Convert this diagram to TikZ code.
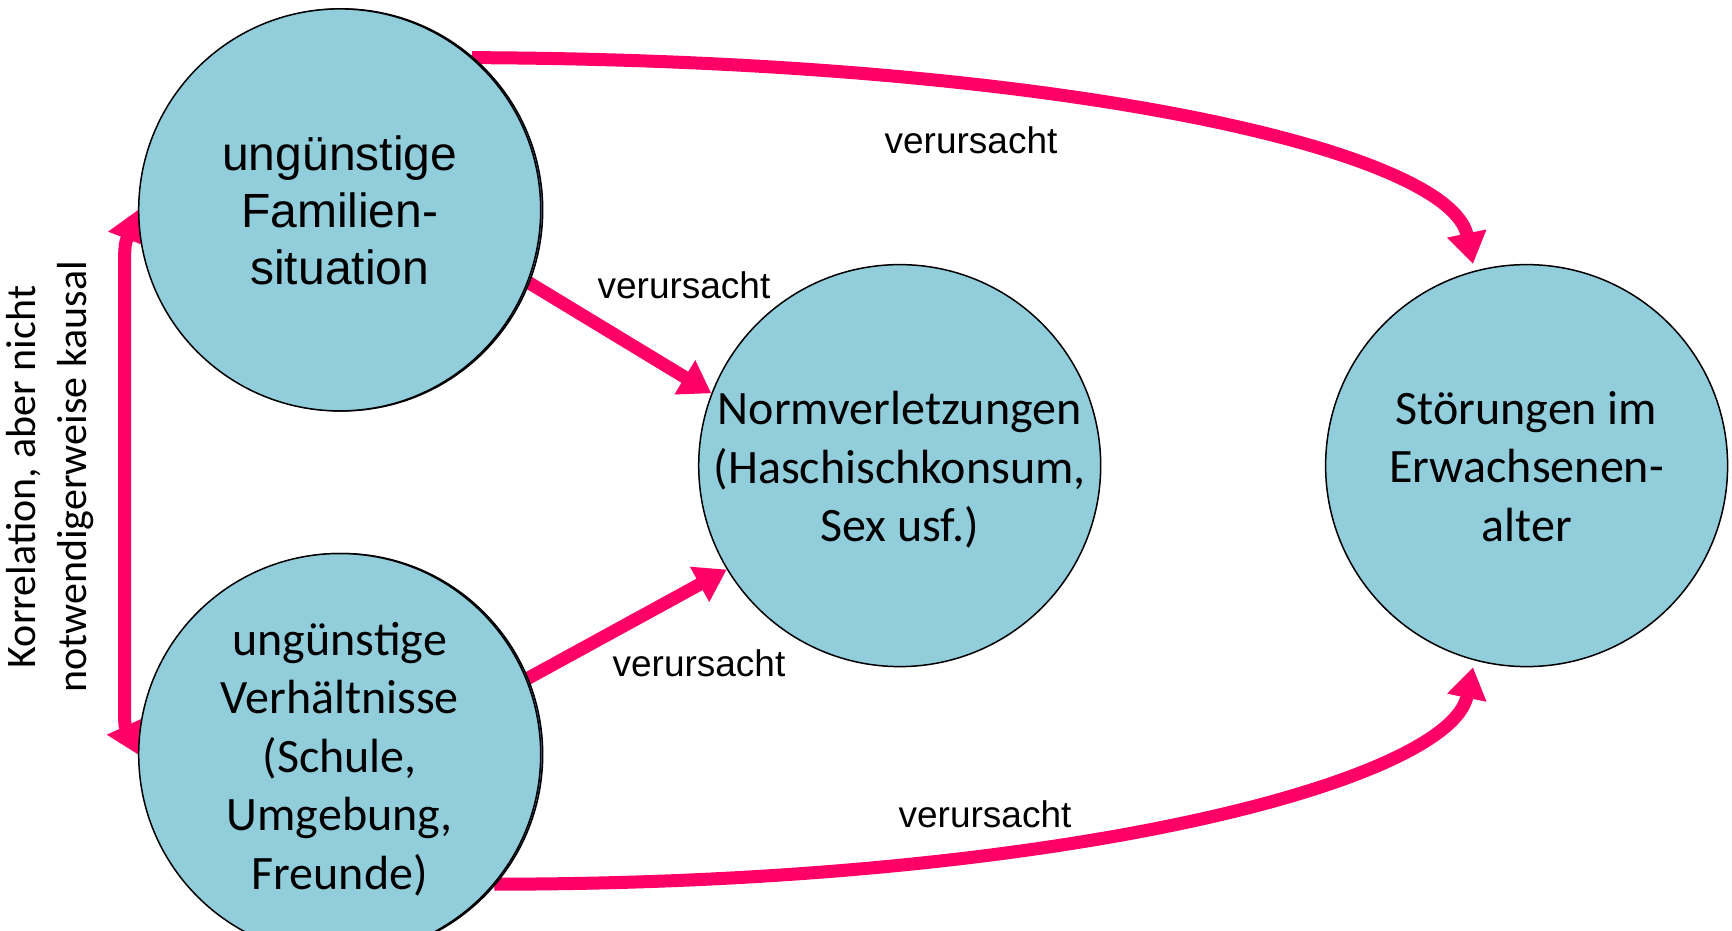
\documentclass[tikz,border=0pt]{standalone}
\usepackage{fontspec}
\setmainfont{Liberation Sans}
\newfontfamily\calibrifont{Carlito}
\usetikzlibrary{arrows.meta}
\definecolor{pinkc}{RGB}{255,0,102}
\definecolor{bluec}{RGB}{146,205,220}
\definecolor{shadowc}{RGB}{79,129,189}
\pgfdeclarelayer{bg}
\pgfsetlayers{bg,main}
\begin{document}
\begin{tikzpicture}[x=1pt,y=-1pt,
  bubble/.style={circle, draw=black, line width=1.5pt, fill=bluec, minimum size=402pt, inner sep=0pt},
  shadowbubble/.style={circle, draw=black, line width=1.5pt, fill=shadowc, minimum size=402pt, inner sep=0pt},
  bubbletext/.style={align=center, inner sep=0pt},
  arialtext/.style={font=\fontsize{48pt}{57pt}\selectfont},
  calibritext/.style={font=\calibrifont\fontsize{48pt}{58.5pt}\selectfont},
  cause/.style={line width=13pt, draw=pinkc, -{Triangle[length=31pt,width=38pt]}},
  corr/.style={line width=13pt, draw=pinkc, {Triangle[length=31pt,width=38pt]}-{Triangle[length=31pt,width=38pt]}},
  lbl/.style={font=\fontsize{37pt}{44pt}\selectfont, inner sep=0pt}
]
\useasboundingbox (0,0) rectangle (1732,930);
\begin{pgfonlayer}{bg}
\fill[white] (0,0) rectangle (1732,930);
\end{pgfonlayer}
\node[shadowbubble] (As) at (341.7,209.9) {};
\node[bubble] (A) at (339.7,209.9) {};
\node[bubbletext, arialtext] (At) at (339.7,210.5) {ungünstige\\Familien-\\situation};
\node[shadowbubble] (Bs) at (341.7,754.5) {};
\node[bubble] (B) at (339.7,754.5) {};
\node[bubbletext, calibritext] (Bt) at (339.7,759) {ungünstige\\Verhältnisse\\(Schule,\\Umgebung,\\Freunde)};
\node[bubble] (C) at (899.7,465.6) {};
\node[bubbletext, calibritext] (Ct) at (899.7,469.8) {Normverletzungen\\(Haschischkonsum,\\Sex usf.)};
\node[bubble] (D) at (1526.6,465.6) {};
\node[bubbletext, calibritext] (Dt) at (1526.6,466.5) {Störungen im\\Erwachsenen-\\alter};
\node[rotate=90, align=center, inner sep=0pt, font=\calibrifont\fontsize{42pt}{51pt}\selectfont] (K) at (50,477) {Korrelation, aber nicht\\notwendigerweise kausal};
\node[lbl] (l1) at (971,140) {verursacht};
\node[lbl] (l2) at (684,285) {verursacht};
\node[lbl] (l3) at (699,663) {verursacht};
\node[lbl] (l4) at (985,814) {verursacht};
\begin{pgfonlayer}{bg}
\draw[cause] (A.-21) -- (C.159);
\draw[cause] (B.22) -- (C.211);
\draw[cause, shorten >=7pt] (A.49) .. controls (1070,60) and (1450,152) .. (D.105);
\draw[cause, shorten >=7pt] (B.-40) .. controls (1070,884) and (1450,780) .. (D.255);
\draw[corr] (A.west) .. controls (124.5,245) .. (124.5,290) -- (124.5,680) .. controls (124.5,725) .. (B.west);
\end{pgfonlayer}
\end{tikzpicture}
\end{document}
